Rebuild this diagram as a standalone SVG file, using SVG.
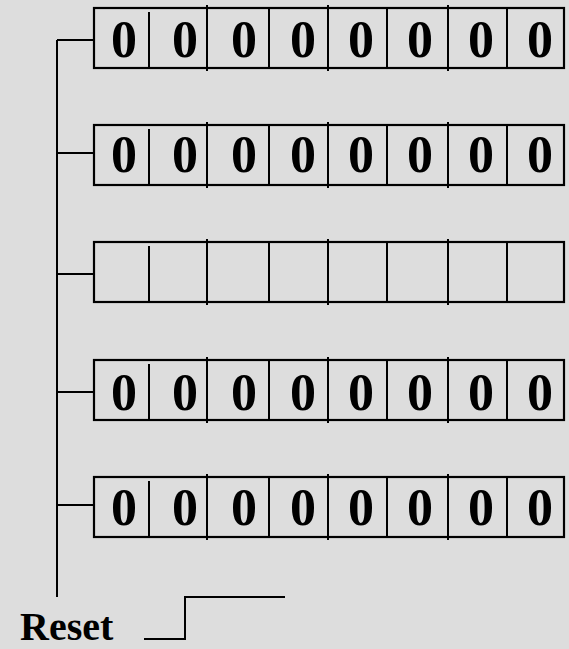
<svg xmlns="http://www.w3.org/2000/svg" width="569" height="649" viewBox="0 0 569 649">
<style>
.ln{stroke:#000;stroke-width:2;fill:none}
.box{stroke:#000;stroke-width:2.2;fill:none}
.d{font-family:"Liberation Serif","Times New Roman",serif;font-weight:bold;font-size:52px;fill:#000;text-anchor:middle}
.lbl{font-family:"Liberation Serif","Times New Roman",serif;font-weight:bold;font-size:40px;fill:#000}
</style>
<defs>
<g id="cells">
<rect class="box" x="94" y="0" width="470" height="60"/>
<path class="ln" d="M149,4V60M207,-3V63M269,0V60M328,-3V63M387,0V60M448,-3V63M507,0V60"/>
</g>
<g id="zeros">
<text class="d" x="124" y="0">0</text>
<text class="d" x="185" y="0">0</text>
<text class="d" x="244" y="0">0</text>
<text class="d" x="303" y="0">0</text>
<text class="d" x="361" y="0">0</text>
<text class="d" x="420" y="0">0</text>
<text class="d" x="481" y="0">0</text>
<text class="d" x="540" y="0">0</text>
</g>
</defs>
<rect width="569" height="649" fill="#DDDDDD"/>
<g id="connectors">
<path class="ln" d="M57,40V597"/>
<path class="ln" d="M57,40H94M57,153H94M57,274H94M57,392H94M57,505H94"/>
</g>
<g id="reg1"><use href="#cells" y="8"/><use href="#zeros" y="57"/></g>
<g id="reg2"><use href="#cells" y="125"/><use href="#zeros" y="172"/></g>
<g id="reg3"><use href="#cells" y="242"/></g>
<g id="reg4"><use href="#cells" y="360"/><use href="#zeros" y="410"/></g>
<g id="reg5"><use href="#cells" y="477"/><use href="#zeros" y="525"/></g>
<g id="reset">
<text class="lbl" x="20" y="640">Reset</text>
<path class="ln" d="M144,639H185V597H285"/>
</g>
</svg>
